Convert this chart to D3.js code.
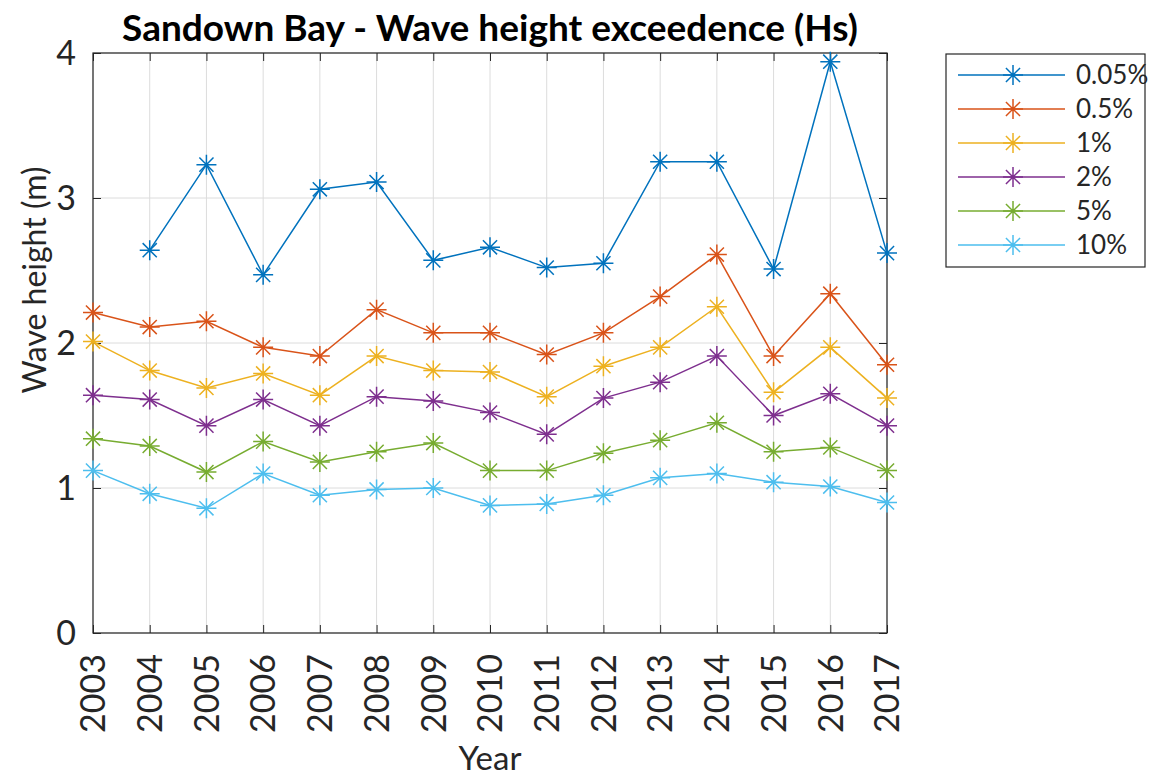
<!DOCTYPE html>
<html>
<head>
<meta charset="utf-8">
<script src="https://cdn.jsdelivr.net/npm/d3@7"></script>
<style>
  body { margin: 0; background: #fff; }
  svg { font-family: Lato, "Open Sans", sans-serif; }
</style>
</head>
<body>
<div id="chart"></div>
<script>
// data
var years = [2003, 2004, 2005, 2006, 2007, 2008, 2009, 2010, 2011, 2012, 2013, 2014, 2015, 2016, 2017];
var seriesNames = ["0.05%", "0.5%", "1%", "2%", "5%", "10%"];
var h005 = [null, 2.64, 3.23, 2.47, 3.06, 3.11, 2.57, 2.66, 2.52, 2.55, 3.25, 3.25, 2.51, 3.94, 2.62];
var h05  = [2.21, 2.11, 2.15, 1.97, 1.91, 2.23, 2.07, 2.07, 1.92, 2.07, 2.32, 2.61, 1.91, 2.34, 1.85];
var h1   = [2.01, 1.81, 1.69, 1.79, 1.64, 1.91, 1.81, 1.80, 1.63, 1.84, 1.97, 2.25, 1.66, 1.97, 1.62];
var h2   = [1.64, 1.61, 1.43, 1.61, 1.43, 1.63, 1.60, 1.52, 1.37, 1.62, 1.73, 1.91, 1.50, 1.65, 1.43];
var h5   = [1.34, 1.29, 1.11, 1.32, 1.18, 1.25, 1.31, 1.12, 1.12, 1.24, 1.33, 1.45, 1.25, 1.28, 1.12];
var h10  = [1.12, 0.96, 0.86, 1.10, 0.95, 0.99, 1.00, 0.88, 0.89, 0.95, 1.07, 1.10, 1.04, 1.01, 0.90];
var yTicks = [0, 1, 2, 3, 4];
var colors = ["#0072BD", "#D95319", "#EDB120", "#7E2F8E", "#77AC30", "#4DBEEE"];

var allSeries = [h005, h05, h1, h2, h5, h10];

var width = 1155, height = 778;
var plot = {left: 93, right: 887, top: 53, bottom: 633};

var svg = d3.select("#chart").append("svg")
  .attr("width", width).attr("height", height);

var x = d3.scaleLinear().domain([2003, 2017]).range([plot.left, plot.right]);
var y = d3.scaleLinear().domain([0, 4]).range([plot.bottom, plot.top]);

// grid
svg.append("g").attr("class", "grid")
  .selectAll("line.vg").data(years).enter().append("line")
  .attr("x1", function(d){ return x(d); }).attr("x2", function(d){ return x(d); })
  .attr("y1", plot.top).attr("y2", plot.bottom)
  .attr("stroke", "#dcdcdc").attr("stroke-width", 1);
svg.select("g.grid")
  .selectAll("line.hg").data(yTicks).enter().append("line")
  .attr("x1", plot.left).attr("x2", plot.right)
  .attr("y1", function(d){ return y(d); }).attr("y2", function(d){ return y(d); })
  .attr("stroke", "#dcdcdc").attr("stroke-width", 1);

// axes (ticks inward, on all four sides)
var tk = 8;
svg.append("g")
  .attr("transform", "translate(0," + plot.bottom + ")")
  .call(d3.axisTop(x).tickValues(years).tickSize(tk).tickFormat(""))
  .call(function(g){ g.select(".domain").remove(); });
svg.append("g")
  .attr("transform", "translate(0," + plot.top + ")")
  .call(d3.axisBottom(x).tickValues(years).tickSize(tk).tickFormat(""))
  .call(function(g){ g.select(".domain").remove(); });
svg.append("g")
  .attr("transform", "translate(" + plot.left + ",0)")
  .call(d3.axisRight(y).tickValues(yTicks).tickSize(tk).tickFormat(""))
  .call(function(g){ g.select(".domain").remove(); });
svg.append("g")
  .attr("transform", "translate(" + plot.right + ",0)")
  .call(d3.axisLeft(y).tickValues(yTicks).tickSize(tk).tickFormat(""))
  .call(function(g){ g.select(".domain").remove(); });
svg.selectAll(".tick line").attr("stroke", "#262626");

svg.append("rect")
  .attr("x", plot.left).attr("y", plot.top)
  .attr("width", plot.right - plot.left).attr("height", plot.bottom - plot.top)
  .attr("fill", "none").attr("stroke", "#262626").attr("stroke-width", 1.2);

// tick labels
svg.append("g").selectAll("text").data(yTicks).enter().append("text")
  .attr("x", plot.left - 17).attr("y", function(d){ return y(d); })
  .attr("dy", "0.36em").attr("text-anchor", "end")
  .attr("font-size", 34).attr("fill", "#262626")
  .text(function(d){ return d; });

svg.append("g").selectAll("text").data(years).enter().append("text")
  .attr("transform", function(d){ return "translate(" + x(d) + "," + (plot.bottom + 21) + ") rotate(-90)"; })
  .attr("dy", "0.36em").attr("text-anchor", "end")
  .attr("font-size", 34).attr("fill", "#262626")
  .text(function(d){ return d; });

// axis titles
svg.append("text")
  .attr("x", (plot.left + plot.right) / 2).attr("y", 770)
  .attr("text-anchor", "middle").attr("font-size", 33).attr("fill", "#262626")
  .text("Year");
svg.append("text")
  .attr("transform", "translate(46,280) rotate(-90)")
  .attr("text-anchor", "middle").attr("font-size", 32).attr("fill", "#262626")
  .text("Wave height (m)");

// title
svg.append("text")
  .attr("x", (plot.left + plot.right) / 2).attr("y", 41)
  .attr("text-anchor", "middle").attr("font-size", 37).attr("font-weight", "bold")
  .attr("fill", "#000")
  .text("Sandown Bay - Wave height exceedence (Hs)");

// asterisk marker
function star(g, cx, cy, r, color) {
  var d = r * Math.SQRT1_2;
  g.append("path")
    .attr("d", "M" + (cx - r) + "," + cy + "H" + (cx + r) +
               "M" + cx + "," + (cy - r) + "V" + (cy + r) +
               "M" + (cx - d) + "," + (cy - d) + "L" + (cx + d) + "," + (cy + d) +
               "M" + (cx - d) + "," + (cy + d) + "L" + (cx + d) + "," + (cy - d))
    .attr("stroke", color).attr("stroke-width", 1.5).attr("fill", "none");
}

var line = d3.line()
  .defined(function(d){ return d.v != null; })
  .x(function(d){ return x(d.year); })
  .y(function(d){ return y(d.v); });

allSeries.forEach(function(vals, i){
  var pts = years.map(function(yr, j){ return {year: yr, v: vals[j]}; });
  var g = svg.append("g");
  g.append("path").datum(pts)
    .attr("d", line).attr("fill", "none")
    .attr("stroke", colors[i]).attr("stroke-width", 1.5);
  pts.forEach(function(p){
    if (p.v != null) star(g, x(p.year), y(p.v), 10, colors[i]);
  });
});

// legend
var lg = svg.append("g");
lg.append("rect")
  .attr("x", 946).attr("y", 54).attr("width", 199).attr("height", 213)
  .attr("fill", "#fff").attr("stroke", "#262626").attr("stroke-width", 1.2);
seriesNames.forEach(function(name, i){
  var ly = 75 + i * 34;
  lg.append("line").attr("x1", 958).attr("x2", 1065).attr("y1", ly).attr("y2", ly)
    .attr("stroke", colors[i]).attr("stroke-width", 1.5);
  star(lg, 1013, ly, 10, colors[i]);
  lg.append("text").attr("x", 1076).attr("y", ly).attr("dy", "0.36em")
    .attr("font-size", 26).attr("fill", "#262626").text(name);
});
</script>
</body>
</html>
